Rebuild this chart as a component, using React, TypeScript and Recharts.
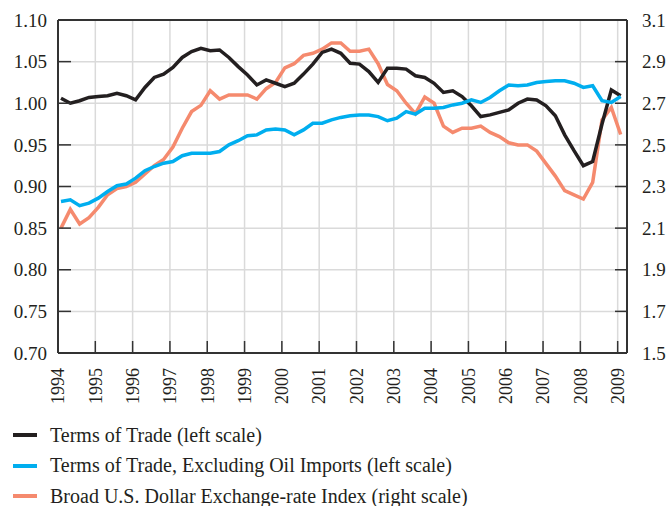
import React from 'react';
import { LineChart, Line, XAxis, YAxis, CartesianGrid, ReferenceLine } from 'recharts';

// Quarterly observations, 1994 Q1 – 2009 Q1
const startYear = 1994;
const quarterOffset = 0.08;

const termsOfTrade = [
  1.006, 1.000, 1.003, 1.007, 1.008, 1.009, 1.012, 1.009, 1.004, 1.019,
  1.031, 1.035, 1.043, 1.055, 1.062, 1.066, 1.063, 1.064, 1.055, 1.044,
  1.034, 1.022, 1.028, 1.024, 1.020, 1.024, 1.035, 1.047, 1.061, 1.065,
  1.060, 1.048, 1.047, 1.038, 1.025, 1.042, 1.042, 1.041, 1.033, 1.031,
  1.024, 1.013, 1.015, 1.008, 0.997, 0.984, 0.986, 0.989, 0.992, 1.000,
  1.005, 1.004, 0.997, 0.985, 0.962, 0.943, 0.925, 0.930, 0.975, 1.016, 1.009,
];

const termsExOil = [
  0.882, 0.884, 0.877, 0.880, 0.886, 0.894, 0.901, 0.903, 0.910, 0.919,
  0.924, 0.928, 0.930, 0.937, 0.940, 0.940, 0.940, 0.942, 0.950, 0.955,
  0.961, 0.962, 0.968, 0.969, 0.968, 0.962, 0.968, 0.976, 0.976, 0.980,
  0.983, 0.985, 0.986, 0.986, 0.984, 0.979, 0.982, 0.990, 0.987, 0.994,
  0.994, 0.995, 0.998, 1.000, 1.004, 1.001, 1.007, 1.015, 1.022, 1.021,
  1.022, 1.025, 1.026, 1.027, 1.027, 1.024, 1.019, 1.021, 1.003, 1.001, 1.008,
];

const dollarIndex = [
  2.10, 2.19, 2.12, 2.15, 2.20, 2.26, 2.29, 2.30, 2.32, 2.36,
  2.40, 2.43, 2.49, 2.58, 2.66, 2.69, 2.76, 2.72, 2.74, 2.74,
  2.74, 2.72, 2.77, 2.80, 2.87, 2.89, 2.93, 2.94, 2.96, 2.99,
  2.99, 2.95, 2.95, 2.96, 2.89, 2.79, 2.76, 2.70, 2.65, 2.73,
  2.70, 2.59, 2.56, 2.58, 2.58, 2.59, 2.56, 2.54, 2.51, 2.50,
  2.50, 2.47, 2.41, 2.35, 2.28, 2.26, 2.24, 2.32, 2.62, 2.68, 2.55,
];

const yearTicks = [1994, 1995, 1996, 1997, 1998, 1999, 2000, 2001, 2002, 2003, 2004, 2005, 2006, 2007, 2008, 2009];
const leftTicks = [0.7, 0.75, 0.8, 0.85, 0.9, 0.95, 1.0, 1.05, 1.1];
const rightTicks = [1.5, 1.7, 1.9, 2.1, 2.3, 2.5, 2.7, 2.9, 3.1];

const seriesNames = [
  'Terms of Trade (left scale)',
  'Terms of Trade, Excluding Oil Imports (left scale)',
  'Broad U.S. Dollar Exchange-rate Index (right scale)',
];
const seriesColors = ['#231f20', '#00aeef', '#f58a6e'];

const data = termsOfTrade.map((v, i) => ({
  t: startYear + i / 4 + quarterOffset,
  tot: v,
  exOil: termsExOil[i],
  usd: dollarIndex[i],
}));

const FONT = '"Liberation Serif", "Times New Roman", serif';
const INK = '#231f20';
const AXIS = '#333333';

const LeftTick = (props: any) => {
  const { x, y, payload } = props;
  return (
    <text x={x} y={y} dy="0.35em" textAnchor="end" fontFamily={FONT} fontSize={19} fill={INK}>
      {Number(payload.value).toFixed(2)}
    </text>
  );
};

const RightTick = (props: any) => {
  const { x, y, payload } = props;
  return (
    <text x={x} y={y} dy="0.35em" textAnchor="start" fontFamily={FONT} fontSize={19} fill={INK}>
      {Number(payload.value).toFixed(1)}
    </text>
  );
};

const BottomTick = (props: any) => {
  const { x, y, payload } = props;
  return (
    <text
      x={x}
      y={y}
      dy="0.35em"
      textAnchor="end"
      transform={`rotate(-90 ${x} ${y})`}
      fontFamily={FONT}
      fontSize={18}
      fill={INK}
    >
      {String(payload.value)}
    </text>
  );
};

export default function App() {
  return (
    <div
      style={{
        position: 'absolute',
        left: 0,
        top: 0,
        width: 666,
        height: 506,
        overflow: 'hidden',
        background: '#ffffff',
      }}
    >
      <LineChart width={666} height={420} data={data} margin={{ top: 20, right: 0, left: 0, bottom: 7 }}>
        <CartesianGrid yAxisId="left" stroke="#dadada" strokeWidth={1.5} />
        <XAxis
          type="number"
          dataKey="t"
          domain={[1994, 2009.25]}
          ticks={yearTicks}
          interval={0}
          height={60}
          tickSize={-12}
          tickMargin={27}
          tick={<BottomTick />}
          axisLine={{ stroke: AXIS, strokeWidth: 2 }}
          tickLine={{ stroke: AXIS, strokeWidth: 1.5 }}
        />
        <YAxis
          yAxisId="left"
          domain={[0.7, 1.1]}
          ticks={leftTicks}
          interval={0}
          width={58}
          tickSize={-13}
          tickMargin={24}
          tick={<LeftTick />}
          axisLine={{ stroke: AXIS, strokeWidth: 2 }}
          tickLine={{ stroke: AXIS, strokeWidth: 1.5 }}
        />
        <YAxis
          yAxisId="right"
          orientation="right"
          domain={[1.5, 3.1]}
          ticks={rightTicks}
          interval={0}
          width={39}
          tickSize={-12}
          tickMargin={27}
          tick={<RightTick />}
          axisLine={{ stroke: AXIS, strokeWidth: 2 }}
          tickLine={{ stroke: AXIS, strokeWidth: 1.5 }}
        />
        <ReferenceLine yAxisId="left" y={1.1} stroke={AXIS} strokeWidth={2} />
        <Line
          yAxisId="right"
          type="linear"
          dataKey="usd"
          name={seriesNames[2]}
          stroke={seriesColors[2]}
          strokeWidth={3.5}
          dot={false}
          isAnimationActive={false}
        />
        <Line
          yAxisId="left"
          type="linear"
          dataKey="tot"
          name={seriesNames[0]}
          stroke={seriesColors[0]}
          strokeWidth={3.5}
          dot={false}
          isAnimationActive={false}
        />
        <Line
          yAxisId="left"
          type="linear"
          dataKey="exOil"
          name={seriesNames[1]}
          stroke={seriesColors[1]}
          strokeWidth={3.5}
          dot={false}
          isAnimationActive={false}
        />
      </LineChart>
      <div style={{ position: 'absolute', left: 0, top: 420, width: 666 }}>
        {seriesNames.map((name, i) => (
          <div
            key={name}
            style={{ display: 'flex', alignItems: 'center', height: 30.5, fontFamily: FONT, fontSize: 20, color: INK }}
          >
            <span
              style={{
                display: 'inline-block',
                width: 24,
                height: 4,
                background: seriesColors[i],
                marginLeft: 13,
                marginRight: 13,
              }}
            />
            <span>{name}</span>
          </div>
        ))}
      </div>
    </div>
  );
}
